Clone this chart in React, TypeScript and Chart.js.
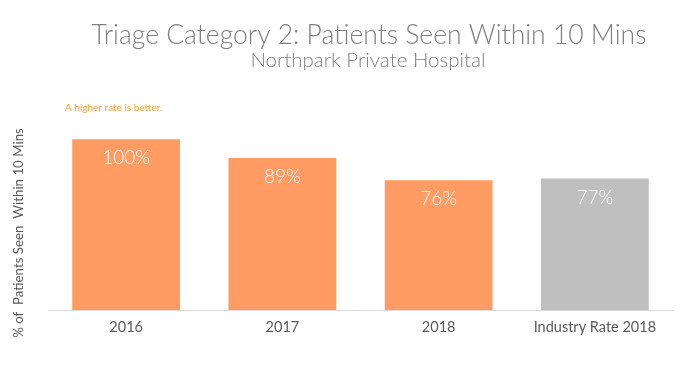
import React, { useEffect, useRef } from "react";
import { Chart, registerables } from "chart.js";

Chart.register(...registerables);

const categories = ["2016", "2017", "2018", "Industry Rate 2018"];
const values = [100, 89, 76, 77];
const barColors = ["#FF9B63", "#FF9B63", "#FF9B63", "#BFBFBF"];
const titleText = "Triage Category 2: Patients Seen Within 10 Mins";
const subtitleText = "Northpark Private Hospital";
const noteText = "A higher rate is better.";
const yTitleText = "% of  Patients Seen  Within 10 Mins";

export default function App() {
  const ref = useRef<HTMLCanvasElement>(null);
  useEffect(() => {
    document.body.style.margin = "0";
    const textPlugin = {
      id: "texts",
      afterDraw(chart: any) {
        const ctx = chart.ctx;
        ctx.save();
        ctx.textAlign = "center";
        ctx.textBaseline = "middle";
        ctx.fillStyle = "#7F7F7F";
        ctx.font = "300 26.5px Lato";
        ctx.fillText(titleText, 369, 35);
        ctx.font = "300 20.5px Lato";
        ctx.fillText(subtitleText, 368, 60);
        ctx.textAlign = "left";
        ctx.fillStyle = "#F5A33B";
        ctx.font = "10px Lato";
        ctx.fillText(noteText, 65, 108);
        ctx.save();
        ctx.translate(19, 233);
        ctx.rotate(-Math.PI / 2);
        ctx.textAlign = "center";
        ctx.fillStyle = "#595959";
        ctx.font = "13.3px Lato";
        ctx.fillText(yTitleText, 0, 0);
        ctx.restore();
        // data labels
        const meta = chart.getDatasetMeta(0);
        ctx.textAlign = "center";
        ctx.fillStyle = "#FFFFFF";
        ctx.font = "300 19px Lato";
        meta.data.forEach((el: any, i: number) => {
          ctx.fillText(values[i] + "%", el.x, el.y + 19);
        });
        ctx.restore();
      },
    };
    const chart = new Chart(ref.current!, {
      type: "bar",
      data: {
        labels: categories,
        datasets: [
          {
            data: values,
            backgroundColor: barColors,
            borderWidth: 0,
            categoryPercentage: 1,
            barPercentage: 0.69,
          },
        ],
      },
      options: {
        responsive: false,
        animation: false,
        layout: { padding: { left: 48, right: 27, top: 105, bottom: 0 } },
        plugins: { legend: { display: false }, tooltip: { enabled: false }, title: { display: false } },
        scales: {
          x: {
            grid: { display: false, drawTicks: false },
            border: { display: true, color: "#D9D9D9", width: 1 },
            ticks: { color: "#595959", font: { family: "Lato", size: 14.5 }, padding: 9 },
            afterFit: (s: any) => {
              s.height = 67;
            },
          },
          y: { display: false, min: 0, max: 120 },
        },
      },
      plugins: [textPlugin],
    });
    return () => chart.destroy();
  }, []);
  return (
    <div style={{ width: 700, height: 377, background: "#fff" }}>
      <canvas ref={ref} width={700} height={377} />
    </div>
  );
}
